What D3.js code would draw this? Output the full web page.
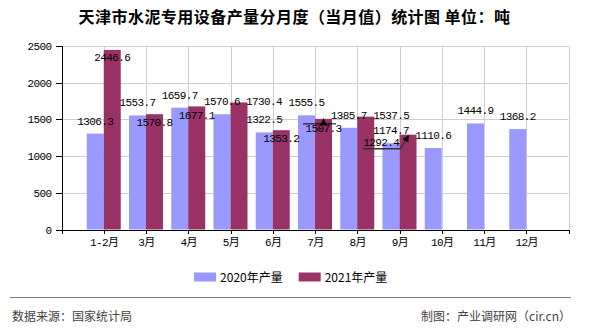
<!DOCTYPE html>
<html>
<head>
<meta charset="utf-8">
<script src="https://cdn.jsdelivr.net/npm/d3@7"></script>
<style>
  html, body { margin: 0; padding: 0; background: #fff; }
  svg { display: block; }
</style>
</head>
<body>
<svg id="chart" width="590" height="330"></svg>
<script>
// ---------- data ----------
const categories = ["1-2月", "3月", "4月", "5月", "6月", "7月", "8月", "9月", "10月", "11月", "12月"];
const values2020 = [1306.3, 1553.7, 1659.7, 1570.6, 1322.5, 1555.5, 1385.7, 1174.7, 1110.6, 1444.9, 1368.2];
const values2021 = [2446.6, 1570.8, 1677.1, 1730.4, 1353.2, 1507.3, 1537.5, 1292.4];
const yTicks = [0, 500, 1000, 1500, 2000, 2500];
const seriesNames = ["2020年产量", "2021年产量"];
const titleText = "天津市水泥专用设备产量分月度（当月值）统计图 单位：吨";
const sourceText = "数据来源：国家统计局";
const creditText = "制图：产业调研网（cir.cn）";

// label placement tweaks (relative shifts, avoid overlap like the original)
const labelShift2021 = [[0, 20.5], [0, 20.5], [0, 21.5], [25, 12], [0, 21], [0, 22.5], [25.5, 11.5], [-26.8, 20.5]];

// ---------- setup ----------
(function () {
const colors = ["#9999FF", "#993366"];
const monoFont = "'Liberation Mono', 'DejaVu Sans Mono', monospace";
const cjkFont = "'Noto Sans CJK SC', 'Noto Sans', sans-serif";

const svg = d3.select("#chart");
svg.append("rect").attr("width", 590).attr("height", 330).attr("fill", "#fff");

const defs = svg.append("defs");
defs.append("marker").attr("id", "arrow").attr("viewBox", "0 0 10 10")
  .attr("refX", 9).attr("refY", 5).attr("markerWidth", 7).attr("markerHeight", 7)
  .attr("markerUnits", "userSpaceOnUse").attr("orient", "auto")
  .append("path").attr("d", "M0,0 L10,5 L0,10 z").attr("fill", "#000");

const pLeft = 61.5, pRight = 568.5, pTop = 46, pBottom = 229.5;

const x = d3.scalePoint().domain(categories).range([pLeft, pRight]).padding(1);
const y = d3.scaleLinear().domain([0, 2500]).range([pBottom, pTop]);
const barW = 17;

// gridlines
const grid = svg.append("g");
grid.selectAll("line.h").data(yTicks).join("line")
  .attr("x1", pLeft).attr("x2", pRight)
  .attr("y1", d => Math.round(y(d)) + 0.5).attr("y2", d => Math.round(y(d)) + 0.5)
  .attr("stroke", "#cfcfcf").attr("stroke-width", 1);
grid.selectAll("line.v").data(categories.map(c => x(c)).concat([pRight])).join("line")
  .attr("x1", d => Math.round(d) + 0.5).attr("x2", d => Math.round(d) + 0.5)
  .attr("y1", pTop).attr("y2", pBottom)
  .attr("stroke", "#cfcfcf").attr("stroke-width", 1);

// bars
const bars = svg.append("g");
bars.selectAll("rect.s2020").data(values2020).join("rect")
  .attr("x", (d, i) => x(categories[i]) - barW)
  .attr("y", d => y(d)).attr("width", barW).attr("height", d => pBottom - y(d))
  .attr("fill", colors[0]);
bars.selectAll("rect.s2021").data(values2021).join("rect")
  .attr("x", (d, i) => x(categories[i]))
  .attr("y", d => y(d)).attr("width", barW).attr("height", d => pBottom - y(d))
  .attr("fill", colors[1]);

// axes
const yAxis = svg.append("g").attr("transform", `translate(${pLeft},0)`)
  .call(d3.axisLeft(y).tickValues(yTicks).tickSize(6).tickPadding(4).tickFormat(d3.format("d")));
const xAxis = svg.append("g").attr("transform", `translate(0,${pBottom})`)
  .call(d3.axisBottom(x).tickSize(4).tickPadding(5));
[yAxis, xAxis].forEach(a => {
  a.selectAll("path, line").attr("stroke", "#000").attr("shape-rendering", "crispEdges");
  a.selectAll("text").attr("fill", "#000")
    .style("font-family", monoFont + ", " + cjkFont)
    .style("font-size", "11px").style("letter-spacing", "-0.6px");
});
yAxis.selectAll("text").attr("dy", "0.32em");

// data labels
const labels = svg.append("g")
  .style("font-family", monoFont).style("font-size", "11px").style("letter-spacing", "-0.6px")
  .attr("fill", "#000").attr("text-anchor", "middle");
labels.selectAll("text.l2020").data(values2020).join("text")
  .attr("x", (d, i) => x(categories[i]) - barW / 2)
  .attr("y", d => y(d) - 9)
  .text(d => d.toFixed(1));
labels.selectAll("text.l2021").data(values2021).join("text")
  .attr("x", (d, i) => x(categories[i]) + barW / 2 + labelShift2021[i][0])
  .attr("y", (d, i) => y(values2021[i]) - 9 + labelShift2021[i][1])
  .text(d => d.toFixed(1));

// leader lines for displaced labels
const leaders = svg.append("g").attr("fill", "none");
{
  const i = 5; // 7月 2021
  const cx = x(categories[i]) + barW / 2 + labelShift2021[i][0];
  const base = y(values2021[i]) - 9 + labelShift2021[i][1];
  const ly = base - 8.5;
  leaders.append("line").attr("x1", cx - 20.5).attr("x2", cx + 12.5)
    .attr("y1", ly).attr("y2", ly).attr("stroke", "#000").attr("stroke-width", 1);
  leaders.append("line").attr("x1", cx).attr("x2", cx)
    .attr("y1", ly).attr("y2", y(values2021[i]))
    .attr("stroke", "#000").attr("stroke-width", 1).attr("marker-end", "url(#arrow)");
}
{
  const i = 7; // 9月 2021
  const bx = x(categories[i]) + barW / 2;
  const cx = bx + labelShift2021[i][0];
  const base = y(values2021[i]) - 9 + labelShift2021[i][1];
  const ly = base + 2.7;
  leaders.append("path")
    .attr("d", `M${cx - 18.5},${ly} L${cx + 19},${ly} L${bx + 0.5},${y(values2021[i]) + 1}`)
    .attr("stroke", "#333").attr("stroke-width", 1.5).attr("marker-end", "url(#arrow)");
}

// title
svg.append("text").attr("x", 294.5).attr("y", 23).attr("text-anchor", "middle")
  .style("font-family", cjkFont).style("font-size", "16px").style("font-weight", "bold")
  .style("letter-spacing", "0.45px")
  .attr("fill", "#000").text(titleText);

// legend
const legend = svg.append("g").style("font-family", cjkFont).style("font-size", "12px");
let lx = 0;
seriesNames.forEach((name, i) => {
  const g = legend.append("g").attr("transform", `translate(${lx},0)`);
  g.append("rect").attr("x", 0).attr("y", 272.5).attr("width", 22).attr("height", 9).attr("fill", colors[i]);
  const t = g.append("text").attr("x", 26).attr("y", 282).attr("fill", "#000").text(name);
  const w = 26 + t.node().getComputedTextLength();
  lx += w + 16;
});
const totalW = lx - 16;
legend.attr("transform", `translate(${290.7 - totalW / 2},0)`);

// footer
svg.append("line").attr("x1", 10).attr("x2", 571).attr("y1", 297.5).attr("y2", 297.5)
  .attr("stroke", "#808080").attr("stroke-width", 1);
svg.append("text").attr("x", 12).attr("y", 321)
  .style("font-family", cjkFont).style("font-size", "12px").attr("fill", "#444").text(sourceText);
svg.append("text").attr("x", 571).attr("y", 321).attr("text-anchor", "end")
  .style("font-family", cjkFont).style("font-size", "12px").attr("fill", "#444").text(creditText);
})();
</script>
</body>
</html>
